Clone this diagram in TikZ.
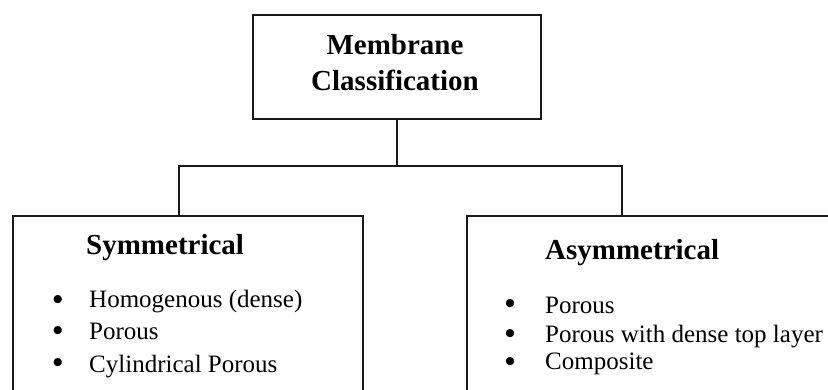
\documentclass[tikz,border=0pt]{standalone}
\usepackage{fontspec}
\setmainfont{Liberation Serif}
\begin{document}
\begin{tikzpicture}[x=1pt,y=-1pt,
  box/.style={draw=black!90, line width=2.6pt, rectangle, inner sep=0pt},
  conn/.style={draw=black!90, line width=2.6pt},
  ttl/.style={anchor=base, inner sep=0pt, font=\fontsize{29}{34}\selectfont\bfseries},
  itm/.style={anchor=base west, inner sep=0pt, font=\fontsize{25}{30}\selectfont},
  bul/.style={anchor=base, inner sep=0pt, font=\fontsize{30}{30}\selectfont\bfseries}]
\useasboundingbox (0,0) rectangle (828,390);
\clip (0,0) rectangle (828,390);
\fill[white] (0,0) rectangle (828,390);
% boxes
\node[box, minimum width=288pt, minimum height=104pt] (top) at (397,67) {};
\node[box, minimum width=350pt, minimum height=210pt] (lbox) at (188,321) {};
\node[box, minimum width=440pt, minimum height=210pt] (rbox) at (687,321) {};
% connectors
\coordinate (hub) at (397,166);
\coordinate (lj) at (179,166);
\coordinate (rj) at (622,166);
\draw[conn] (top.south) -- (hub);
\draw[conn, line join=miter] (lj |- lbox.north) -- (lj) -- (rj) -- (rj |- rbox.north);
% title
\node[ttl] (t1) at (395,55) {Membrane};
\node[ttl] (t2) at (395,91) {Classification};
% left
\node[ttl, anchor=base west] (lt) at (86,255) {Symmetrical};
\node[bul] (lb1) at (58,309) {•};
\node[itm] (li1) at (89,308) {Homogenous (dense)};
\node[bul] (lb2) at (58,341) {•};
\node[itm] (li2) at (89,340) {Porous};
\node[bul] (lb3) at (58,373) {•};
\node[itm] (li3) at (89,372) {Cylindrical Porous};
% right
\node[ttl, anchor=base west] (rt) at (545,260) {Asymmetrical};
\node[bul] (rb1) at (510,314) {•};
\node[itm] (ri1) at (545,313) {Porous};
\node[bul] (rb2) at (510,343) {•};
\node[itm] (ri2) at (545,342) {Porous with dense top layer};
\node[bul] (rb3) at (510,371) {•};
\node[itm] (ri3) at (545,370) {Composite};
\end{tikzpicture}
\end{document}
